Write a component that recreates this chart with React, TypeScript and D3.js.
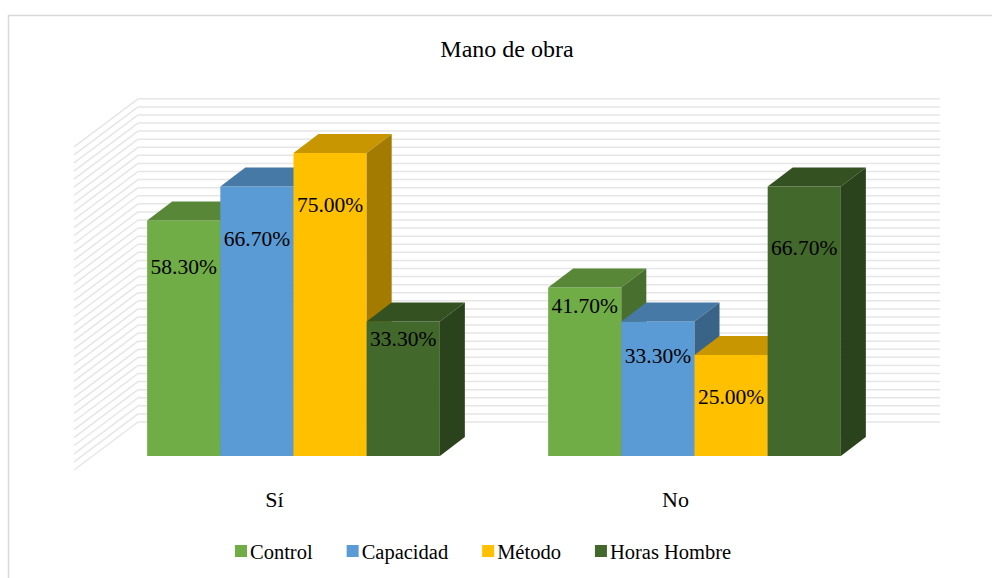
import React from "react";
import * as d3 from "d3";

const categories = ["Sí", "No"];
const series = ["Control", "Capacidad", "Método", "Horas Hombre"];
const colors = ["#70AD47", "#5B9BD5", "#FFC000", "#43682B"];
// values[category][series]
const siValues = [0.583, 0.667, 0.75, 0.333];
const noValues = [0.417, 0.333, 0.25, 0.667];
const valuesByCategory = [siValues, noValues];
const labelTexts = [
  ["58.30%", "66.70%", "75.00%", "33.30%"],
  ["41.70%", "33.30%", "25.00%", "66.70%"],
];
const yMax = 0.8;
const gridStep = 0.02;

// layout constants
const W = 992;
const H = 578;
const FONT = "Liberation Serif, Times New Roman, Tinos, DejaVu Serif, serif";
const floorLeft = 74;
const floorRight = 876;
const floorFrontY = 470;
const wallDx = 64;
const wallDy = 48;
const barFrontDx = 19;
const barFrontDy = 14;
const barDx = 25;
const barDy = 19;
const plotHeight = 323.2;
// label baseline offsets below the bar top (px), per category/series
const labelOffsets = [
  [54, 59, 59, 25],
  [25, 42, 49, 68],
];

function shade(c: string, k: number) {
  const r = d3.rgb(c);
  return d3.rgb(r.r * k, r.g * k, r.b * k).formatHex();
}

function measure(text: string, font: string) {
  const canvas = document.createElement("canvas");
  const ctx = canvas.getContext("2d")!;
  ctx.font = font;
  return ctx.measureText(text).width;
}

export default function App() {
  const yFront = d3.scaleLinear().domain([0, yMax]).range([floorFrontY, floorFrontY - plotHeight]);
  const yBack = d3.scaleLinear().domain([0, yMax]).range([floorFrontY - wallDy, floorFrontY - wallDy - plotHeight]);
  const yBar = d3.scaleLinear().domain([0, yMax]).range([floorFrontY - barFrontDy, floorFrontY - barFrontDy - plotHeight]);

  const xCat = d3.scaleBand<string>().domain(categories).range([floorLeft, floorRight]);
  const xCatBar = d3.scaleBand<string>().domain(categories).range([floorLeft + barFrontDx, floorRight + barFrontDx]);
  const xSeries = d3
    .scaleBand<string>()
    .domain(series)
    .range([0, xCatBar.bandwidth()])
    .paddingInner(0)
    .paddingOuter(0.74);

  const gridValues = d3.range(0, Math.round(yMax / gridStep) + 1).map((i) => i * gridStep);

  const bars: React.ReactNode[] = [];
  const labels: React.ReactNode[] = [];
  categories.forEach((cat, ci) => {
    series.forEach((s, si) => {
      const v = valuesByCategory[ci][si];
      const x0 = xCatBar(cat)! + xSeries(s)!;
      const x1 = x0 + xSeries.bandwidth();
      const yt = yBar(v);
      const yb = yBar(0);
      const c = colors[si];
      bars.push(
        <g key={`${cat}-${s}`}>
          <rect x={x0} y={yt} width={x1 - x0} height={yb - yt} fill={c} />
          <polygon
            points={`${x0},${yt} ${x0 + barDx},${yt - barDy} ${x1 + barDx},${yt - barDy} ${x1},${yt}`}
            fill={shade(c, 0.78)}
          />
          <polygon
            points={`${x1},${yt} ${x1 + barDx},${yt - barDy} ${x1 + barDx},${yb - barDy} ${x1},${yb}`}
            fill={shade(c, 0.64)}
          />
        </g>
      );
      labels.push(
        <text
          key={`l-${cat}-${s}`}
          x={(x0 + x1) / 2}
          y={yt + labelOffsets[ci][si]}
          textAnchor="middle"
          fontFamily={FONT}
          fontSize={21.5}
          fill="#000"
        >
          {labelTexts[ci][si]}
        </text>
      );
    });
  });

  // legend
  const legendFont = 20.5;
  const legendFontStr = `${legendFont}px ${FONT}`;
  const sq = 12;
  const gapSqText = 3;
  const gapItems = 34;
  let lx = 235;
  const legendItems = series.map((s, i) => {
    const w = measure(s, legendFontStr);
    const item = { s, x: lx, color: colors[i] };
    lx += sq + gapSqText + w + gapItems;
    return item;
  });

  return (
    <svg
      width={W}
      height={H}
      style={{ position: "absolute", left: 0, top: 0, background: "#fff", fontFamily: FONT }}
    >
      <rect x={0} y={0} width={W} height={H} fill="#fff" />
      <rect x={8.5} y={15.5} width={1000} height={600} fill="#fff" stroke="#d9d9d9" strokeWidth={1.5} />
      <text x={507} y={57} textAnchor="middle" fontFamily={FONT} fontSize={24} fill="#000">
        Mano de obra
      </text>
      <g>
        {gridValues.map((v, i) => (
          <g key={i}>
            <line
              x1={floorLeft}
              y1={yFront(v)}
              x2={floorLeft + wallDx}
              y2={yBack(v)}
              stroke="#e6e6e6"
              strokeWidth={1.5}
            />
            <line
              x1={floorLeft + wallDx}
              y1={yBack(v)}
              x2={floorRight + wallDx}
              y2={yBack(v)}
              stroke="#e6e6e6"
              strokeWidth={1.5}
            />
          </g>
        ))}
      </g>
      <g>{bars}</g>
      <g>{labels}</g>
      <g>
        {categories.map((c) => (
          <text
            key={c}
            x={xCat(c)! + xCat.bandwidth() / 2}
            y={507}
            textAnchor="middle"
            fontFamily={FONT}
            fontSize={22}
            fill="#000"
          >
            {c}
          </text>
        ))}
      </g>
      <g>
        {legendItems.map((it) => (
          <g key={it.s}>
            <rect x={it.x} y={545} width={sq} height={sq} fill={it.color} />
            <text x={it.x + sq + gapSqText} y={559} fontFamily={FONT} fontSize={legendFont} fill="#000">
              {it.s}
            </text>
          </g>
        ))}
      </g>
    </svg>
  );
}
